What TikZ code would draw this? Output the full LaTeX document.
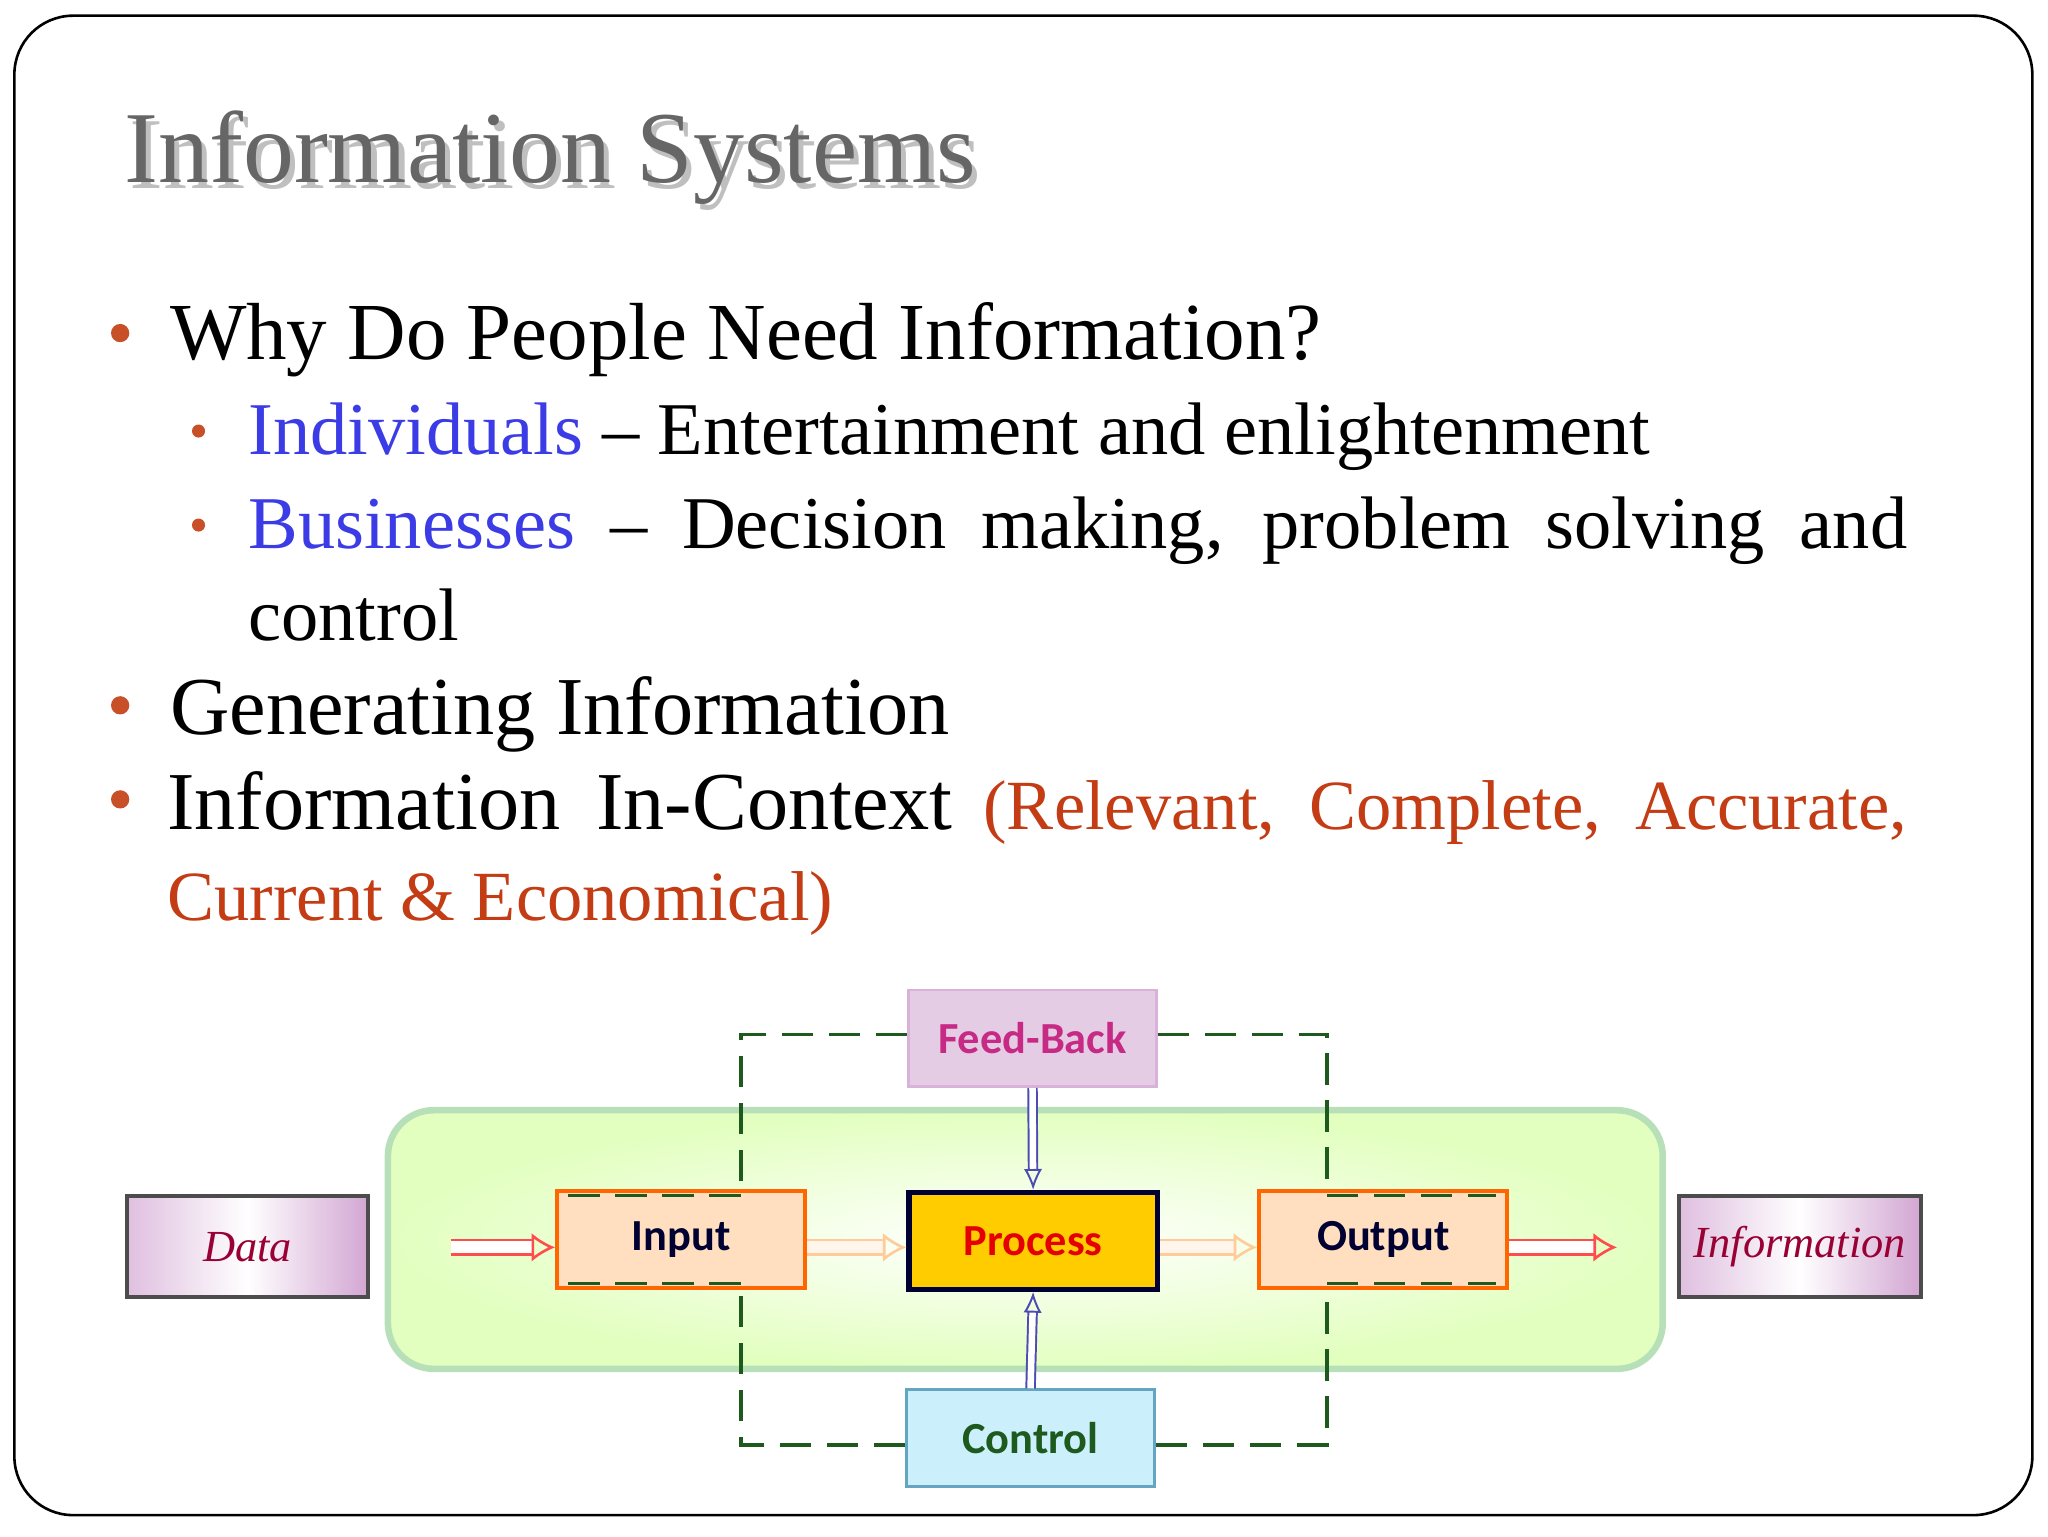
\documentclass[tikz,border=0pt]{standalone}
\usepackage{fontspec}
\setmainfont{Liberation Serif}
\newfontfamily\diafont{Carlito}
\usetikzlibrary{arrows.meta}
\definecolor{bul}{RGB}{200,80,40}
\definecolor{blu}{RGB}{60,60,230}
\definecolor{redt}{RGB}{195,60,20}
\definecolor{dgreen}{RGB}{30,90,30}
\tikzset{
 box/.style={draw, line width=3pt, minimum width=190pt, minimum height=74pt, font=\diafont\bfseries\fontsize{34}{38}\selectfont},
 endbox/.style={draw=black!70, line width=3pt, minimum width=185pt, minimum height=77pt, left color=violet!25, right color=violet!35, middle color=white, font=\itshape\fontsize{34}{36}\selectfont, text=purple!80!black},
 fat/.style={double distance=9pt, line width=2pt, -{Latex[open,length=18pt,width=22pt]}},
 vfat/.style={double distance=5pt, line width=1.5pt, draw=blue!40!gray, double=white, -{Latex[open,length=16pt,width=14pt]}},
 loop/.style={dgreen, line width=3pt, dash pattern=on 24pt off 12pt},
 bt/.style={anchor=base west, inner sep=0pt},
 dot/.style={circle, fill=bul, inner sep=0pt, minimum size=14pt}
}
\begin{document}
\begin{tikzpicture}[x=1pt,y=-1pt]
\useasboundingbox (0,0) rectangle (1568,1176);
\fill[white] (0,0) rectangle (1568,1176);
\draw[line width=2pt, rounded corners=45pt] (11,12) rectangle (1556,1160);
% title
\node[bt, text=black!25, font=\fontsize{78}{84}\selectfont] at (99,144) {Information Systems};
\node[bt, text=black!60, font=\fontsize{78}{84}\selectfont] (title) at (95,140) {Information Systems};
% bullets
\node[dot] (d1) at (92,255) {};
\node[bt, font=\fontsize{62}{68}\selectfont] (b1) at (130,275) {Why Do People Need Information?};
\node[dot, minimum size=10pt] (d2) at (152,330) {};
\node[bt, font=\fontsize{57}{70}\selectfont] (s1) at (190,348) {\textcolor{blu}{Individuals} -- Entertainment and enlightenment};
\node[dot, minimum size=10pt] (d3) at (152,402) {};
\node[bt, font=\fontsize{57}{70}\selectfont, text width=1270pt, align=justify] (s2) at (190,420) {\hyphenpenalty=10000 \textcolor{blu}{Businesses} -- Decision making, problem solving and control};
\node[dot] (d4) at (92,540) {};
\node[bt, font=\fontsize{63}{68}\selectfont] (b2) at (130,562) {Generating Information};
\node[dot] (d5) at (92,612) {};
\node[bt, font=\fontsize{54}{70}\selectfont, text width=1332pt, align=justify] (b3) at (128,635) {\hyphenpenalty=10000 {\fontsize{63}{70}\selectfont Information In-Context} \textcolor{redt}{(Relevant, Complete, Accurate, Current \& Economical)}};
% diagram
\node[draw=green!40!gray!40, line width=5pt, rounded corners=35pt, minimum width=976pt, minimum height=198pt, inner color=white, outer color=green!45!yellow!25!white] (sys) at (785,949) {};
\node[endbox] (data) at (189.5,954.5) {Data};
\node[endbox] (info) at (1378,954.5) {Information};
\node[box, draw=orange!80!red, fill=orange!25, text=blue!20!black] (in) at (521.5,949) {Input};
\node[box, draw=blue!20!black, line width=4pt, fill=orange!40!yellow, text=red!90!black] (pr) at (791,950) {Process};
\node[box, draw=orange!80!red, fill=orange!25, text=blue!20!black] (out) at (1059,949) {Output};
\node[box, draw=violet!30, fill=violet!20, text=magenta!80!black, line width=2pt] (fb) at (790.5,795) {Feed-Back};
\node[box, draw=cyan!50!gray, fill=cyan!20, text=dgreen, line width=2pt] (ct) at (789,1101) {Control};
% loop
\coordinate (tl) at (567,792); \coordinate (tr) at (1016,792);
\coordinate (bl) at (567,1106); \coordinate (br) at (1016,1106);
\draw[loop] (fb.west |- tl) -- (tl) -- (in.north -| tl);
\draw[loop] (fb.east |- tr) -- (tr) -- (out.north -| tr);
\draw[loop] (ct.west |- bl) -- (bl) -- (in.south -| bl);
\draw[loop] (ct.east |- br) -- (br) -- (out.south -| br);
\draw[loop, line width=2.5pt] ([shift={(10,5)}]in.north west) -- ([shift={(0,5)}]tl |- in.north);
\draw[loop, line width=2.5pt] ([shift={(10,-5)}]in.south west) -- ([shift={(0,-5)}]bl |- in.south);
\draw[loop, line width=2.5pt] ([shift={(0,5)}]tr |- out.north) -- ([shift={(-10,5)}]out.north east);
\draw[loop, line width=2.5pt] ([shift={(0,-5)}]br |- out.south) -- ([shift={(-10,-5)}]out.south east);
% arrows
\coordinate (da) at (345,955);
\coordinate (ia) at (1238,955);
\draw[fat, draw=red!70, double=white] (da) -- (in.west |- da);
\draw[fat, draw=orange!40, double=orange!8] (in.east |- da) -- (pr.west |- da);
\draw[fat, draw=orange!40, double=orange!8] (pr.east |- da) -- (out.west |- da);
\draw[fat, draw=red!70, double=white] (out.east |- da) -- (ia);
\draw[vfat] (fb.south) -- (pr.north);
\draw[vfat] (ct.north) -- (pr.south);
\end{tikzpicture}
\end{document}
